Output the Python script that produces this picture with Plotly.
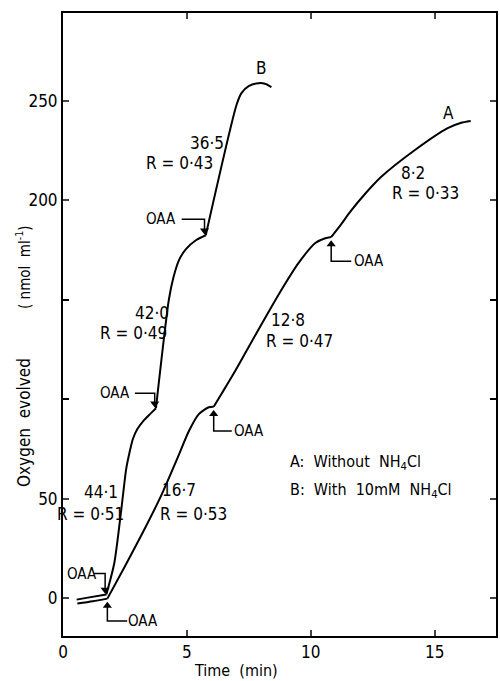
import plotly.graph_objects as go

# ---- data ----
time_B = [0.55, 1.0, 1.75, 2.07, 2.35, 2.55, 2.68, 2.82, 3.0, 3.27, 3.55, 3.75, 4.27, 4.45, 4.68, 4.96, 5.36, 5.76,
          7.0, 7.2, 7.49, 7.89, 8.15, 8.41]
o2_B = [-0.8, 0.2, 1.8, 17.6, 44.3, 65, 73, 80, 85, 89.5, 93, 95.5, 150, 161, 170, 175.5, 180, 182.5,
        248, 254, 257.5, 259, 258.7, 257]

time_A = [0.58, 1.2, 1.79, 2.5, 3.27, 3.96, 4.64, 5.08, 5.48, 5.88, 6.08, 6.41, 6.97, 7.77, 8.81, 9.5,
          10.18, 10.58, 10.82, 11.22, 11.6, 12.2, 12.83, 14.2, 15.52, 16.04, 16.45]
o2_A = [-2.8, -1.6, -0.3, 16, 34.2, 51.5, 71, 84, 92.5, 96, 96.2, 103, 114.7, 132.5, 155, 168.5,
        178.6, 181, 181.6, 188, 194.5, 203.5, 211.8, 225.4, 236.4, 239, 240]

# OAA additions (times at which oxaloacetate was added)
oaa_B_t = [1.75, 3.75, 5.76]
oaa_A_t = [1.79, 6.08, 10.82]

# rate labels: (text, x, y)
rate_labels = [
    ("36·5", 5.80, 229), ("R = 0·43", 4.68, 219),
    ("42·0", 3.59, 143.4), ("R = 0·49", 2.83, 133.3),
    ("44·1", 1.55, 53.3), ("R = 0·51", 1.10, 42.3),
    ("16·7", 4.68, 54.3), ("R = 0·53", 5.28, 42.3),
    ("12·8", 9.06, 139.8), ("R = 0·47", 9.54, 129.3),
    ("8·2", 14.12, 213.8), ("R = 0·33", 14.64, 203.7),
]
curve_names = [("B", 8.02, 266.6), ("A", 15.56, 244.0)]
legend_lines = [("A:  Without  NH<sub>4</sub>Cl", 9.06, 68.4), ("B:  With  10mM  NH<sub>4</sub>Cl", 9.06, 54.3)]

x_ticks = [0, 5, 10, 15]
y_ticks = [0, 50, 200, 250]

FONT = "Liberation Sans Narrow, DejaVu Sans Condensed, Liberation Sans, sans-serif"

fig = go.Figure()


def add_curve(ts, ys, breaks):
    idx = [0] + [ts.index(b) for b in breaks] + [len(ts) - 1]
    for i0, i1 in zip(idx[:-1], idx[1:]):
        fig.add_trace(go.Scatter(x=ts[i0:i1 + 1], y=ys[i0:i1 + 1], mode="lines",
                                 line=dict(color="black", width=2, shape="spline", smoothing=0.7),
                                 showlegend=False, hoverinfo="skip"))


add_curve(time_B, o2_B, oaa_B_t)
add_curve(time_A, o2_A, oaa_A_t)

oaa_B_y = [o2_B[time_B.index(t)] for t in oaa_B_t]
oaa_A_y = [o2_A[time_A.index(t)] for t in oaa_A_t]

ofont = dict(family=FONT, size=15, color="black")

# OAA brackets for B (coming from above-left)
b_rise = [10.5, 7.5, 8.0]
b_run = [0.45, 0.8, 0.92]
b_text_dx = [-0.95, -1.6, -1.75]
for t, y, h, w, dx in zip(oaa_B_t, oaa_B_y, b_rise, b_run, b_text_dx):
    t = t - 0.05
    fig.add_trace(go.Scatter(x=[t - w, t, t], y=[y + h, y + h, y + 2], mode="lines",
                             line=dict(color="black", width=1.5), showlegend=False, hoverinfo="skip"))
    fig.add_trace(go.Scatter(x=[t], y=[y + 2.4], mode="markers",
                             marker=dict(symbol="triangle-down", size=8, color="black"),
                             showlegend=False, hoverinfo="skip"))
    fig.add_annotation(x=t + dx, y=y + h, text="OAA", showarrow=False, font=ofont)

# OAA brackets for A (coming from below-right)
a_drop = [10.0, 11.0, 11.0]
a_run = [0.8, 0.73, 0.81]
a_text_dx = [1.44, 1.42, 1.53]
for t, y, h, w, dx in zip(oaa_A_t, oaa_A_y, a_drop, a_run, a_text_dx):
    y = y - 1.2
    fig.add_trace(go.Scatter(x=[t, t, t + w], y=[y - 2, y - h, y - h], mode="lines",
                             line=dict(color="black", width=1.5), showlegend=False, hoverinfo="skip"))
    fig.add_trace(go.Scatter(x=[t], y=[y - 2.4], mode="markers",
                             marker=dict(symbol="triangle-up", size=8, color="black"),
                             showlegend=False, hoverinfo="skip"))
    fig.add_annotation(x=t + dx, y=y - h, text="OAA", showarrow=False, font=ofont)

for txt, x, y in rate_labels:
    fig.add_annotation(x=x, y=y, text=txt, showarrow=False, font=dict(family=FONT, size=17, color="black"))
for txt, x, y in curve_names:
    fig.add_annotation(x=x, y=y, text=txt, showarrow=False, font=dict(family=FONT, size=17, color="black"))
for txt, x, y in legend_lines:
    fig.add_annotation(x=x, y=y, text=txt, showarrow=False, xanchor="left",
                       font=dict(family=FONT, size=16, color="black"))

# axis titles
fig.add_annotation(x=0.40, y=-0.0555, xref="paper", yref="paper", yanchor="middle", xanchor="center",
                   text="Time  (min)", showarrow=False, font=dict(family=FONT, size=16, color="black"))
fig.add_annotation(x=-0.09, y=0.342, xref="paper", yref="paper", xanchor="center", yanchor="middle",
                   text="Oxygen  evolved", textangle=-90,
                   showarrow=False, font=dict(family=FONT, size=17, color="black"))
fig.add_annotation(x=-0.092, y=0.591, xref="paper", yref="paper", xanchor="center", yanchor="middle",
                   text="( nmol  ml<sup>-1</sup>)", textangle=-90,
                   showarrow=False, font=dict(family=FONT, size=15, color="black"))

fig.update_layout(
    width=500, height=681,
    margin=dict(l=63, r=2, t=13, b=45),
    paper_bgcolor="white", plot_bgcolor="white",
    font=dict(family=FONT, size=16, color="black"),
    xaxis=dict(range=[0, 17.47], tickvals=x_ticks, ticks="inside", ticklen=6, tickwidth=1.5,
               showline=True, linewidth=2, linecolor="black", mirror="ticks", showgrid=False, zeroline=False,
               tickfont=dict(family=FONT, size=17)),
    yaxis=dict(range=[-19.1, 294.3], tickvals=y_ticks, ticks="inside", ticklen=6,
               tickwidth=1.5, showline=True, linewidth=2, linecolor="black", mirror="ticks", showgrid=False,
               zeroline=False, tickfont=dict(family=FONT, size=17),
               minor=dict(ticks="inside", ticklen=6, tickwidth=1.5, tick0=0, dtick=50, tickcolor="black")),
)

fig.write_html("out.html")
